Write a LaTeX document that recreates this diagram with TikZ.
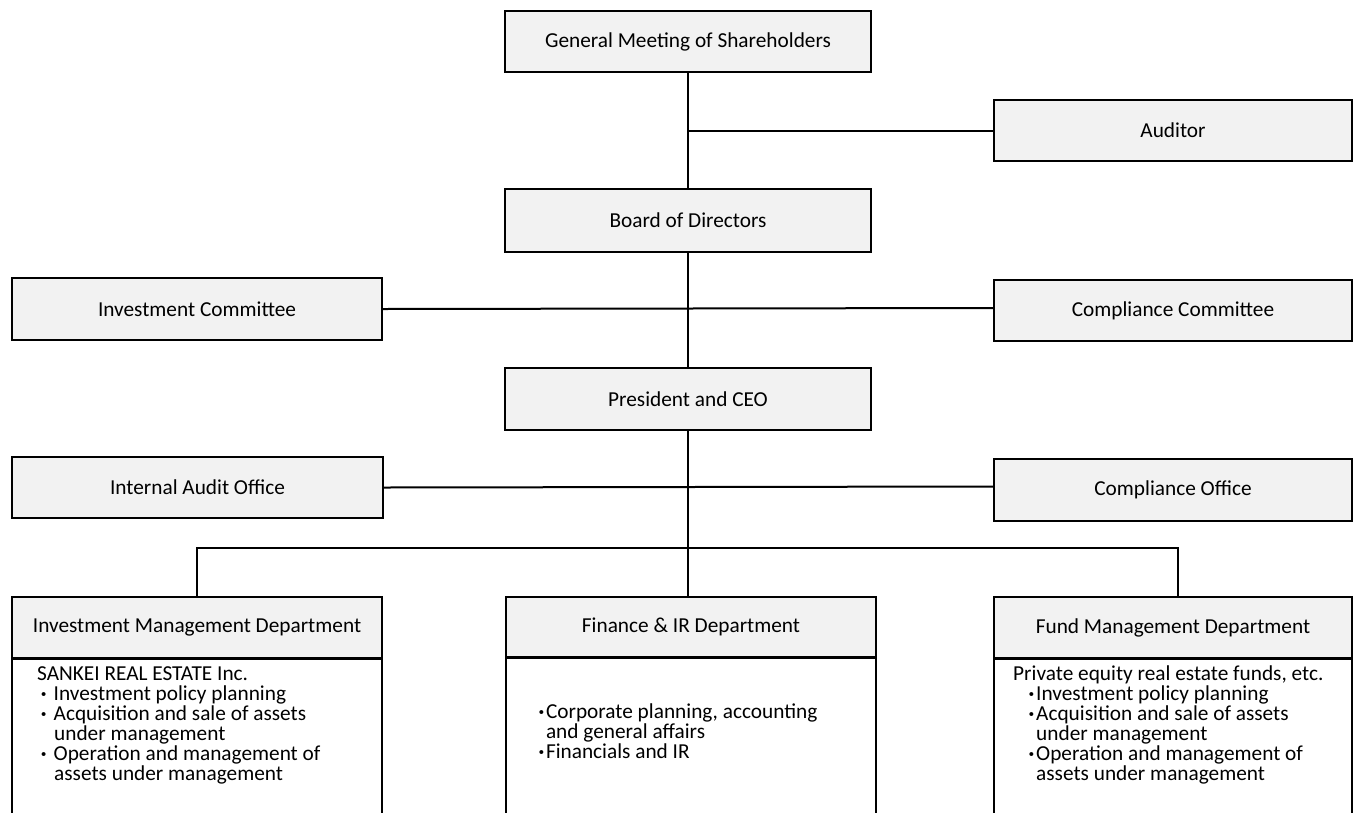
\documentclass[tikz,border=0pt]{standalone}
\usepackage{fontspec}
\setmainfont{Carlito}
\definecolor{boxgray}{RGB}{242,242,242}
% middle dot bullet, centred on the current point
\newcommand\bul{\makebox[0pt]{\bfseries ·}}
\newcommand\firstline{\rule{0pt}{16pt}}
\setlength{\lineskiplimit}{-100pt}
\tikzset{
  orgbox/.style={draw=black, fill=boxgray, line width=2pt, inner sep=0pt,
    font=\fontsize{21.3}{20}\selectfont},
  bodybox/.style={draw=black, fill=white, line width=2pt, inner sep=0pt},
  bodytext/.style={anchor=north west, inner sep=0pt, align=left,
    font=\fontsize{21.3}{20}\selectfont},
  conn/.style={draw=black, line width=2pt},
}
\begin{document}
\begin{tikzpicture}[x=1pt,y=-1pt]
\clip (0,0) rectangle (1354,812);
\fill[white] (0,0) rectangle (1354,812);

% governance boxes
\node[orgbox, minimum width=366pt, minimum height=61pt] (gms) at (688,41.5) {General Meeting of Shareholders};
\node[orgbox, minimum width=358pt, minimum height=61pt] (aud) at (1173,130.5) {Auditor};
\node[orgbox, minimum width=366pt, minimum height=63pt] (bod) at (688,220.5) {Board of Directors};
\node[orgbox, minimum width=370pt, minimum height=62pt] (ic) at (197,309) {Investment Committee};
\node[orgbox, minimum width=358pt, minimum height=61pt] (cc) at (1173,310.5) {Compliance Committee};
\node[orgbox, minimum width=366pt, minimum height=62pt] (pres) at (688,399) {President and CEO};
\node[orgbox, minimum width=371pt, minimum height=61pt] (iao) at (197.5,487.5) {Internal Audit Office};
\node[orgbox, minimum width=358pt, minimum height=62pt] (co) at (1173,490) {Compliance Office};

% department bodies (run past the lower edge)
\node[bodybox, minimum width=370pt, minimum height=172pt, anchor=north] (imdb) at (197,658) {};
\node[bodybox, minimum width=370pt, minimum height=172pt, anchor=north] (finb) at (691,657) {};
\node[bodybox, minimum width=358pt, minimum height=172pt, anchor=north] (fmdb) at (1173,658) {};

% department headers
\node[orgbox, minimum width=370pt, minimum height=61pt] (imd) at (197,627.5) {Investment Management Department};
\node[orgbox, minimum width=370pt, minimum height=60pt] (fin) at (691,627) {Finance \& IR Department};
\node[orgbox, minimum width=358pt, minimum height=61pt] (fmd) at (1173,627.5) {Fund Management Department};

% connectors
\draw[conn] (gms.south) -- (bod.north);
\draw[conn] (gms.south |- aud.west) -- (aud.west);
\draw[conn] (bod.south) -- (pres.north);
\draw[conn] (ic.east) -- ([yshift=2.5pt]cc.west);
\draw[conn] (iao.east) -- ([yshift=3.5pt]co.west);
\coordinate (bus) at (688,548);
\coordinate (fmdtop) at (1178,597);
\draw[conn] (pres.south) -- (pres.south |- fin.north);
\draw[conn] (imd.north) |- (bus) -| (fmdtop);

% department duties (first baseline 16pt below each node's top)
\node[bodytext] (imdtxt) at (37,664.5) {\firstline SANKEI REAL ESTATE Inc.\\
  \hspace*{6.5pt}\bul\hspace*{10pt}Investment policy planning\\
  \hspace*{6.5pt}\bul\hspace*{10pt}Acquisition and sale of assets\\
  \hspace*{17pt}under management\\
  \hspace*{6.5pt}\bul\hspace*{10pt}Operation and management of\\
  \hspace*{17pt}assets under management};

\node[bodytext] (fintxt) at (535,702) {\firstline\hspace*{6.3pt}\bul\hspace*{4.5pt}Corporate planning, accounting\\
  \hspace*{10.8pt}and general affairs\\
  \hspace*{6.3pt}\bul\hspace*{4.5pt}Financials and IR};

\node[bodytext] (fmdtxt) at (1013,664.5) {\firstline Private equity real estate funds, etc.\\
  \hspace*{18.3pt}\bul\hspace*{4.7pt}Investment policy planning\\
  \hspace*{18.3pt}\bul\hspace*{4.7pt}Acquisition and sale of assets\\
  \hspace*{23pt}under management\\
  \hspace*{18.3pt}\bul\hspace*{4.7pt}Operation and management of\\
  \hspace*{23pt}assets under management};
\end{tikzpicture}
\end{document}
